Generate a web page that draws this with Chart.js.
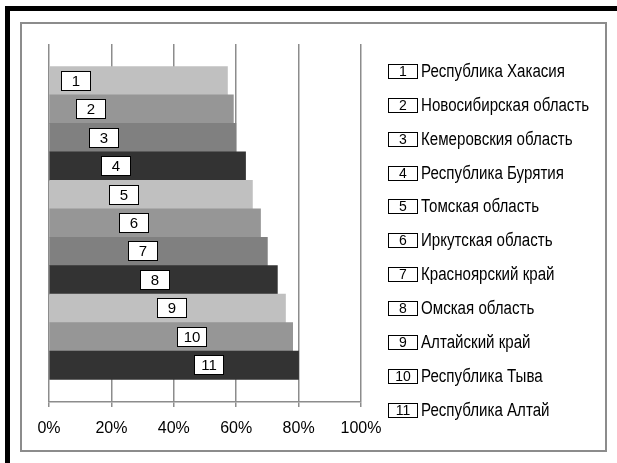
<!DOCTYPE html>
<html>
<head>
<meta charset="utf-8">
<script src="https://cdn.jsdelivr.net/npm/chart.js@4.4.1/dist/chart.umd.min.js"></script>
<style>
    body { margin: 0; background: #fff; }
    #wrap { position: relative; width: 617px; height: 463px; overflow: hidden; }
    #frameTop { position: absolute; left: 5px; top: 6px; width: 612px; height: 5px; background: #000; }
    #frameLeft { position: absolute; left: 5px; top: 6px; width: 5px; height: 457px; background: #000; }
    #box { position: absolute; left: 20px; top: 22px; width: 587px; height: 430px; border: 2px solid #8c8c8c; box-sizing: border-box; }
    #chartBox { position: absolute; left: 0; top: 0; width: 617px; height: 463px; }
    .leg { position: absolute; left: 388px; height: 20px; display: flex; align-items: center; }
    .leg .num { width: 30px; height: 15px; border: 1px solid #000; box-sizing: border-box; background: #fff;
        font: 14px "Liberation Sans", Arial, sans-serif; line-height: 13px; text-align: center; flex: none; }
    .leg .name { margin-left: 3px; font: 18px "Liberation Sans", Arial, sans-serif;
        color: #000; white-space: nowrap; transform-origin: left center; }
</style>
</head>
<body>
<div id="wrap">
    <div id="frameTop"></div>
    <div id="frameLeft"></div>
    <div id="box"></div>
    <div id="chartBox"><canvas id="regionsChart"></canvas></div>
    <div id="legend"></div>
</div>
<script>
// Данные диаграммы
const regions = [
    'Республика Хакасия',
    'Новосибирская область',
    'Кемеровския область',
    'Республика Бурятия',
    'Томская область',
    'Иркутская область',
    'Красноярский край',
    'Омская область',
    'Алтайский край',
    'Республика Тыва',
    'Республика Алтай',
];
const shares = [57.2, 59.1, 59.9, 63.0, 65.2, 67.8, 70.0, 73.2, 75.8, 78.1, 80.0];
const tickLabels = ['0%', '20%', '40%', '60%', '80%', '100%'];

// где стоят номера на полосах (в % по оси)
const numberAt = [8.7, 13.6, 17.6, 21.4, 24.1, 27.1, 30.2, 34.1, 39.5, 45.7, 51.4];
const barColors = ['#c0c0c0', '#969696', '#808080', '#333333', '#c0c0c0', '#969696',
    '#808080', '#333333', '#c0c0c0', '#969696', '#333333'];

// номера в белых рамках на полосах
const numberBoxes = {
    id: 'numberBoxes',
    afterDatasetsDraw(chart) {
        const ctx = chart.ctx;
        const xScale = chart.scales.x;
        chart.getDatasetMeta(0).data.forEach((bar, i) => {
            const cx = Math.round(xScale.getPixelForValue(numberAt[i]));
            const cy = Math.round(bar.y);
            ctx.save();
            ctx.fillStyle = '#fff';
            ctx.fillRect(cx - 15, cy - 10, 30, 20);
            ctx.strokeStyle = '#000';
            ctx.lineWidth = 1;
            ctx.strokeRect(cx - 14.5, cy - 9.5, 29, 19);
            ctx.fillStyle = '#000';
            ctx.font = '15px "Liberation Sans", Arial, sans-serif';
            ctx.textAlign = 'center';
            ctx.textBaseline = 'middle';
            ctx.fillText(String(i + 1), cx, cy + 1);
            ctx.restore();
        });
    },
};

const config = {
    type: 'bar',
    data: {
        datasets: [{
            data: shares.map((v, i) => ({ x: v, y: i + 1 })),
            backgroundColor: barColors,
            borderWidth: 0,
            barPercentage: 1,
            categoryPercentage: 1,
        }],
    },
    options: {
        indexAxis: 'y',
        responsive: true,
        maintainAspectRatio: false,
        animation: false,
        layout: { padding: { left: 49, right: 256, top: 44, bottom: 21 } },
        scales: {
            x: {
                min: 0,
                max: 100,
                afterFit: (scale) => { scale.height = 40; },
                afterBuildTicks: (scale) => {
                    scale.ticks = tickLabels.map((t, i) => ({ value: i * 20 }));
                },
                ticks: {
                    padding: 12,
                    color: '#000',
                    font: { family: '"Liberation Sans", Arial, sans-serif', size: 16 },
                    callback: (v, i) => tickLabels[i],
                },
                grid: { color: '#8c8c8c', lineWidth: 1.5, tickLength: 5 },
                border: { color: '#8c8c8c', width: 1.5 },
            },
            y: {
                type: 'linear',
                reverse: true,
                offset: false,
                grid: { offset: false },
                min: -0.29,
                max: 12.29,
                afterBuildTicks: (scale) => {
                    scale.ticks = regions.map((r, i) => ({ value: i + 1 }));
                },
                display: false,
            },
        },
        plugins: {
            legend: { display: false },
            tooltip: { enabled: false },
        },
    },
    plugins: [numberBoxes],
};

new Chart(document.getElementById('regionsChart'), config);

// легенда справа
const legend = document.getElementById('legend');
const names = [];
regions.forEach((name, i) => {
    const row = document.createElement('div');
    row.className = 'leg';
    row.style.top = (61.3 + i * 33.9) + 'px';
    row.innerHTML = '<div class="num">' + (i + 1) + '</div><div class="name">' + name + '</div>';
    legend.appendChild(row);
    names.push(row.querySelector('.name'));
});
// сжать текст по ширине, как в оригинале
const k = 144 / names[0].getBoundingClientRect().width;
names.forEach((el) => { el.style.transform = 'scaleX(' + k.toFixed(3) + ')'; });
</script>
</body>
</html>
